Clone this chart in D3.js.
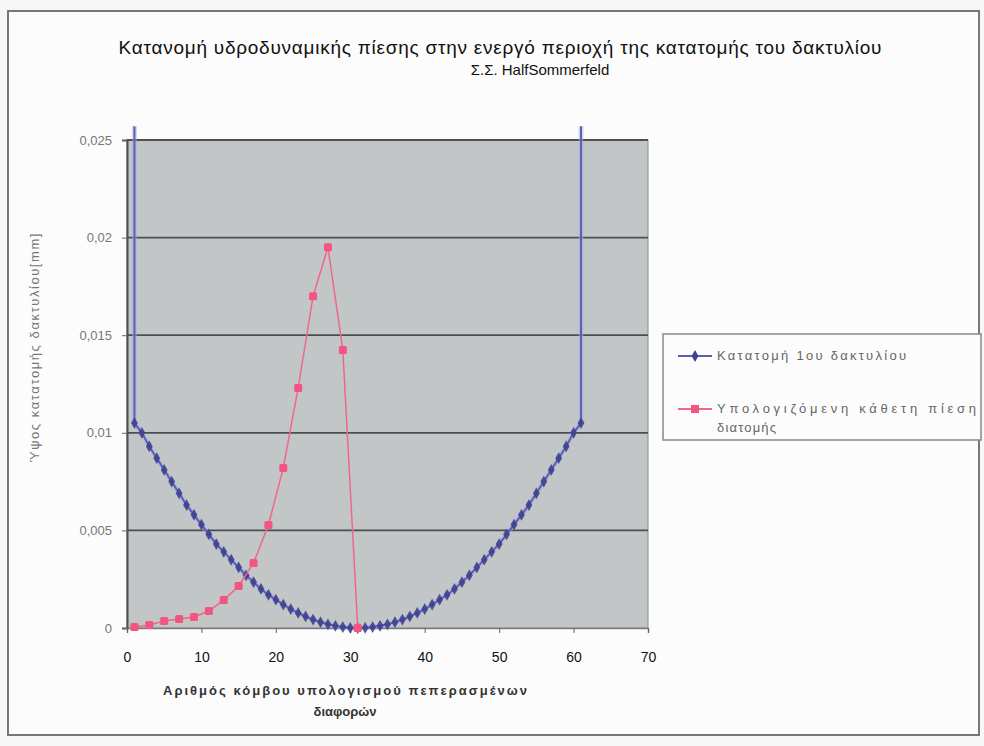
<!DOCTYPE html>
<html>
<head>
<meta charset="utf-8">
<script src="https://cdn.jsdelivr.net/npm/d3@7"></script>
<style>
  body { margin: 0; background: #f7f7f7; }
  svg { display: block; font-family: "Liberation Sans", Arial, sans-serif; }
</style>
</head>
<body>
<svg id="chart" width="984" height="746"></svg>
<script>
// chart values
let titleLines = ["Κατανομή υδροδυναμικής πίεσης στην ενεργό περιοχή της κατατομής του δακτυλίου",
  "Σ.Σ. HalfSommerfeld"];
let xTitleLines = ["Αριθμός κόμβου υπολογισμού πεπερασμένων", "διαφορών"];
let yTitle = "Ύψος κατατομής δακτυλίου[mm]";
let seriesNames = ["Κατατομή 1ου δακτυλίου", "Υπολογιζόμενη κάθετη πίεση", "διατομής"];

let xTicks = [0, 10, 20, 30, 40, 50, 60, 70];
let yTicks = [0, 0.005, 0.01, 0.015, 0.02, 0.025];
let yTickLabels = ["0", "0,005", "0,01", "0,015", "0,02", "0,025"];

// series 1: ring profile (end points run off the top of the axis)
let profileX = [1, 1, 2, 3, 4, 5, 6, 7, 8, 9, 10, 11, 12, 13, 14, 15, 16, 17, 18, 19, 20,
  21, 22, 23, 24, 25, 26, 27, 28, 29, 30, 31, 32, 33, 34, 35, 36, 37, 38, 39, 40,
  41, 42, 43, 44, 45, 46, 47, 48, 49, 50, 51, 52, 53, 54, 55, 56, 57, 58, 59, 60, 61, 61];
let profileY = [0.0257, 0.0105, 0.0100, 0.0093, 0.0087, 0.0081, 0.0075, 0.0069, 0.0063, 0.0058, 0.0053,
  0.0048, 0.0043, 0.0039, 0.0035, 0.0031, 0.0027, 0.00235, 0.0020, 0.0017, 0.00145,
  0.0012, 0.00097, 0.00077, 0.00059, 0.00043, 0.0003, 0.00019, 0.00011, 0.00005, 0.00001,
  0, 0.00001, 0.00005, 0.00011, 0.00019, 0.0003, 0.00043, 0.00059, 0.00077, 0.00097,
  0.0012, 0.00145, 0.0017, 0.0020, 0.00235, 0.0027, 0.0031, 0.0035, 0.0039, 0.0043,
  0.0048, 0.0053, 0.0058, 0.0063, 0.0069, 0.0075, 0.0081, 0.0087, 0.0093, 0.0100, 0.0105, 0.0257];

// series 2: computed normal pressure
let pressureX = [1, 3, 5, 7, 9, 11, 13, 15, 17, 19, 21, 23, 25, 27, 29, 31];
let pressureY = [0.00005, 0.00015, 0.00036, 0.00046, 0.00056, 0.00087, 0.00143, 0.00215,
  0.00333, 0.00528, 0.0082, 0.0123, 0.017, 0.0195, 0.01424, 0];

let blueLine = "#5a5fb4";
let blueHalo = "#a9abe0";
let blueMark = "#3c4090";
let pinkLine = "#f2668a";
let pinkMark = "#f25580";

let svg = d3.select("#chart");
let plotLeft = 127, plotRight = 648, plotTop = 140, plotBottom = 628;

// chart frame
svg.append("rect")
  .attr("x", 8).attr("y", 11).attr("width", 971).attr("height", 724)
  .attr("fill", "#fcfcfc").attr("stroke", "#777").attr("stroke-width", 2);

let xScale = d3.scaleLinear().domain([0, 70]).range([plotLeft, plotRight]);
let yScale = d3.scaleLinear().domain([0, 0.025]).range([plotBottom, plotTop]);

// plot area
svg.append("rect")
  .attr("x", plotLeft).attr("y", plotTop)
  .attr("width", plotRight - plotLeft).attr("height", plotBottom - plotTop)
  .attr("fill", "#c3c6c6").attr("stroke", "#8a8d90").attr("stroke-width", 1);

// gridlines
svg.append("g").selectAll("line")
  .data(yTicks.slice(1))
  .enter().append("line")
  .attr("x1", plotLeft).attr("x2", plotRight)
  .attr("y1", d => yScale(d)).attr("y2", d => yScale(d))
  .attr("stroke", "#4a4f54").attr("stroke-width", 1.8);

// axes
let yAxis = d3.axisLeft(yScale).tickValues(yTicks)
  .tickFormat((d, i) => yTickLabels[i]).tickSize(5).tickPadding(10);
let yG = svg.append("g").attr("transform", "translate(" + plotLeft + ",0)").call(yAxis);
let xAxis = d3.axisBottom(xScale).tickValues(xTicks).tickSize(5).tickPadding(19);
let xG = svg.append("g").attr("transform", "translate(0," + plotBottom + ")").call(xAxis);

yG.select(".domain").attr("stroke", "#4a4d52").attr("stroke-width", 2);
xG.select(".domain").attr("stroke", "#7a7d80").attr("stroke-width", 1.5);
yG.selectAll(".tick line").attr("stroke", "#666");
xG.selectAll(".tick line").attr("stroke", "#666");
yG.selectAll("text").attr("font-size", 13).attr("fill", "#777")
  .attr("font-family", "\"Liberation Sans\", Arial, sans-serif");
xG.selectAll("text").attr("font-size", 14).attr("fill", "#111")
  .attr("font-family", "\"Liberation Sans\", Arial, sans-serif");

// series 1
let profile = profileX.map((x, i) => ({ x: x, y: profileY[i] }));
let line = d3.line().x(d => xScale(d.x)).y(d => yScale(d.y));
svg.append("path").datum(profile)
  .attr("d", line).attr("fill", "none")
  .attr("stroke", blueHalo).attr("stroke-width", 5).attr("opacity", 0.45);
svg.append("path").datum(profile)
  .attr("d", line).attr("fill", "none")
  .attr("stroke", blueLine).attr("stroke-width", 2);
let diamond = d3.symbol().type(d3.symbolDiamond).size(40);
svg.append("g").selectAll("path")
  .data(profile.filter(d => d.y <= 0.025))
  .enter().append("path")
  .attr("d", diamond)
  .attr("transform", d => "translate(" + xScale(d.x) + "," + yScale(d.y) + ")")
  .attr("fill", blueMark).attr("opacity", 0.9);

// series 2
let pressure = pressureX.map((x, i) => ({ x: x, y: pressureY[i] }));
svg.append("path").datum(pressure)
  .attr("d", line).attr("fill", "none")
  .attr("stroke", pinkLine).attr("stroke-width", 1.5);
svg.append("g").selectAll("rect")
  .data(pressure)
  .enter().append("rect")
  .attr("x", d => xScale(d.x) - 4).attr("y", d => yScale(d.y) - 4)
  .attr("width", 8).attr("height", 8).attr("rx", 1.5)
  .attr("fill", pinkMark);

// title
svg.append("text")
  .attr("x", 500).attr("y", 54)
  .attr("text-anchor", "middle")
  .attr("font-size", 19).attr("fill", "#111")
  .attr("textLength", 763).attr("lengthAdjust", "spacing")
  .text(titleLines[0]);
svg.append("text")
  .attr("x", 540).attr("y", 75)
  .attr("text-anchor", "middle")
  .attr("font-size", 15).attr("fill", "#111")
  .text(titleLines[1]);

// axis titles
svg.append("text")
  .attr("x", 345).attr("y", 695)
  .attr("text-anchor", "middle")
  .attr("font-size", 13).attr("font-weight", "bold").attr("fill", "#333")
  .attr("textLength", 364).attr("lengthAdjust", "spacing")
  .text(xTitleLines[0]);
svg.append("text")
  .attr("x", 345).attr("y", 716)
  .attr("text-anchor", "middle")
  .attr("font-size", 13).attr("font-weight", "bold").attr("fill", "#333")
  .text(xTitleLines[1]);

svg.append("text")
  .attr("transform", "translate(39,348) rotate(-90)")
  .attr("text-anchor", "middle")
  .attr("font-size", 13).attr("fill", "#777")
  .attr("textLength", 229).attr("lengthAdjust", "spacing")
  .text(yTitle);

// legend
let legend = svg.append("g");
legend.append("rect")
  .attr("x", 663).attr("y", 334).attr("width", 318).attr("height", 106)
  .attr("fill", "#fcfcfc").attr("stroke", "#888").attr("stroke-width", 1.5);
let legendRows = [
  { y: 356, color: blueLine, mark: blueMark, kind: "diamond" },
  { y: 409, color: pinkLine, mark: pinkMark, kind: "square" }
];
legendRows.forEach(function (row) {
  legend.append("line")
    .attr("x1", 678).attr("x2", 712).attr("y1", row.y).attr("y2", row.y)
    .attr("stroke", row.color).attr("stroke-width", 2);
  if (row.kind == "diamond") {
    legend.append("path").attr("d", diamond)
      .attr("transform", "translate(695," + row.y + ")").attr("fill", row.mark);
  } else {
    legend.append("rect").attr("x", 691).attr("y", row.y - 4)
      .attr("width", 8).attr("height", 8).attr("fill", row.mark);
  }
});
let legendText = [{ y: 360, w: 189 }, { y: 413, w: 259 }, { y: 432, w: 59 }];
legend.selectAll("text")
  .data(seriesNames)
  .enter().append("text")
  .attr("x", 717).attr("y", (d, i) => legendText[i].y)
  .attr("font-size", 13).attr("fill", "#666")
  .attr("textLength", (d, i) => legendText[i].w).attr("lengthAdjust", "spacing")
  .text(d => d);
</script>
</body>
</html>
